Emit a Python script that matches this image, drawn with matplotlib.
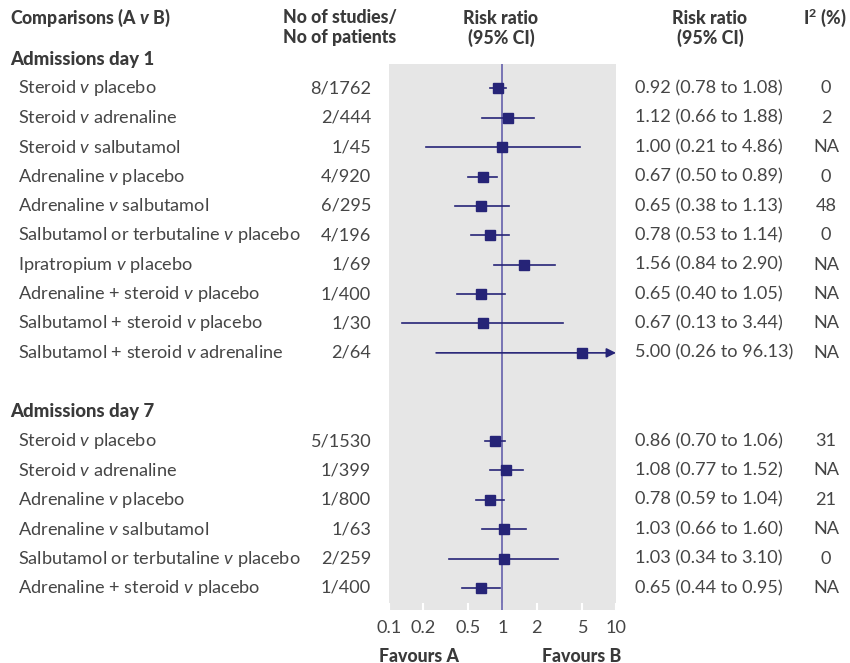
import numpy as np
import matplotlib
matplotlib.use("Agg")
import matplotlib.pyplot as plt
from matplotlib.transforms import blended_transform_factory

plt.rcParams['font.family'] = ['Lato', 'DejaVu Sans']
plt.rcParams['mathtext.fontset'] = 'custom'
plt.rcParams['mathtext.rm'] = 'Lato'
plt.rcParams['mathtext.it'] = 'Lato:italic'
plt.rcParams['mathtext.bf'] = 'Lato:black'
plt.rcParams['mathtext.bfit'] = 'Lato:black:italic'

TEXT_COLOR = "#454545"
HEAD_COLOR = "#3a3a3a"
MARK_COLOR = "#262477"
REF_COLOR = "#6f6bb0"
BG_COLOR = "#e6e6e6"
FONT_SIZE = 13.1

# data
day1_labels = ["Steroid $v$ placebo", "Steroid $v$ adrenaline", "Steroid $v$ salbutamol",
               "Adrenaline $v$ placebo", "Adrenaline $v$ salbutamol",
               "Salbutamol or terbutaline $v$ placebo", "Ipratropium $v$ placebo",
               "Adrenaline + steroid $v$ placebo", "Salbutamol + steroid $v$ placebo",
               "Salbutamol + steroid $v$ adrenaline"]
day1_studies = ["8/1762", "2/444", "1/45", "4/920", "6/295", "4/196", "1/69", "1/400", "1/30", "2/64"]
day1_rr = [0.92, 1.12, 1.00, 0.67, 0.65, 0.78, 1.56, 0.65, 0.67, 5.00]
day1_lo = [0.78, 0.66, 0.21, 0.50, 0.38, 0.53, 0.84, 0.40, 0.13, 0.26]
day1_hi = [1.08, 1.88, 4.86, 0.89, 1.13, 1.14, 2.90, 1.05, 3.44, 96.13]
day1_i2 = ["0", "2", "NA", "0", "48", "0", "NA", "NA", "NA", "NA"]

day7_labels = ["Steroid $v$ placebo", "Steroid $v$ adrenaline", "Adrenaline $v$ placebo",
               "Adrenaline $v$ salbutamol", "Salbutamol or terbutaline $v$ placebo",
               "Adrenaline + steroid $v$ placebo"]
day7_studies = ["5/1530", "1/399", "1/800", "1/63", "2/259", "1/400"]
day7_rr = [0.86, 1.08, 0.78, 1.03, 1.03, 0.65]
day7_lo = [0.70, 0.77, 0.59, 0.66, 0.34, 0.44]
day7_hi = [1.06, 1.52, 1.04, 1.60, 3.10, 0.95]
day7_i2 = ["31", "NA", "21", "NA", "0", "NA"]

tick_values = [0.1, 0.2, 0.5, 1, 2, 5, 10]
tick_labels = ["0.1", "0.2", "0.5", "1", "2", "5", "10"]

W, H = 850, 663
fig = plt.figure(figsize=(8.5, 6.63), dpi=100)
ax = fig.add_axes([389 / W, 1 - 610 / H, (616 - 389) / W, (610 - 64) / H])
ax.set_facecolor(BG_COLOR)
for s in ax.spines.values():
    s.set_visible(False)
ax.set_xscale('log')
ax.set_xlim(0.1, 10)
ax.set_ylim(18.75, 0.17)
ax.set_yticks([])
ax.set_xticks(tick_values)
ax.set_xticklabels(tick_labels)
ax.minorticks_off()
ax.tick_params(axis='x', direction='in', length=5, width=1.5, color='white',
               labelsize=FONT_SIZE, labelcolor=TEXT_COLOR, pad=7)
ax.axvline(1, color=REF_COLOR, lw=1.3, zorder=2)

rows = [(1 + i, day1_labels[i], day1_studies[i], day1_rr[i], day1_lo[i], day1_hi[i], day1_i2[i])
        for i in range(len(day1_labels))]
rows += [(13 + i, day7_labels[i], day7_studies[i], day7_rr[i], day7_lo[i], day7_hi[i], day7_i2[i])
         for i in range(len(day7_labels))]

tr = blended_transform_factory(fig.transFigure, ax.transData)
for y, lab, st, rr, lo, hi, i2 in rows:
    if hi > 10:
        ax.annotate('', xy=(10, y), xytext=(lo, y),
                    arrowprops=dict(arrowstyle='-|>', color=MARK_COLOR, lw=1.2,
                                    mutation_scale=14, shrinkA=0, shrinkB=0))
    else:
        ax.plot([lo, hi], [y, y], color=MARK_COLOR, lw=1.2, zorder=3)
    ax.plot(rr, y, marker='s', ms=7.5, color=MARK_COLOR, zorder=4)
    ax.text(18 / W, y, lab, transform=tr, ha='left', va='center',
            fontsize=FONT_SIZE, color=TEXT_COLOR, clip_on=False)
    ax.text(371 / W, y, st, transform=tr, ha='right', va='center',
            fontsize=FONT_SIZE, color=TEXT_COLOR, clip_on=False)
    ax.text(635 / W, y, f"{rr:.2f} ({lo:.2f} to {hi:.2f})", transform=tr, ha='left',
            va='center', fontsize=FONT_SIZE, color=TEXT_COLOR, clip_on=False)
    ax.text(826 / W, y, i2, transform=tr, ha='center', va='center',
            fontsize=FONT_SIZE, color=TEXT_COLOR, clip_on=False)

for y, name in [(0, "Admissions day 1"), (12, "Admissions day 7")]:
    ax.text(10 / W, y, name, transform=tr, ha='left', va='center', fontsize=13.3,
            fontweight='black', color=HEAD_COLOR, clip_on=False)

# column headers
head = dict(fontsize=12.8, fontweight='black', color=HEAD_COLOR, va='center')
fig.text(10 / W, 1 - 18 / H, r"Comparisons (A $\mathbfit{v}$ B)", ha='left', **head)
fig.text(283 / W, 1 - 18 / H, "No of studies/", ha='left', **head)
fig.text(283 / W, 1 - 38 / H, "No of patients", ha='left', **head)
fig.text(501 / W, 1 - 18 / H, "Risk ratio", ha='center', **head)
fig.text(501 / W, 1 - 38 / H, "(95% CI)", ha='center', **head)
fig.text(710 / W, 1 - 18 / H, "Risk ratio", ha='center', **head)
fig.text(710 / W, 1 - 38 / H, "(95% CI)", ha='center', **head)
fig.text(803 / W, 1 - 18 / H, r"I$^{\mathbf{2}}$ (%)", ha='left', **head)

fig.text(419 / W, 1 - 656 / H, "Favours A", ha='center', **head)
fig.text(582 / W, 1 - 656 / H, "Favours B", ha='center', **head)

fig.savefig("out.png", dpi=100)
